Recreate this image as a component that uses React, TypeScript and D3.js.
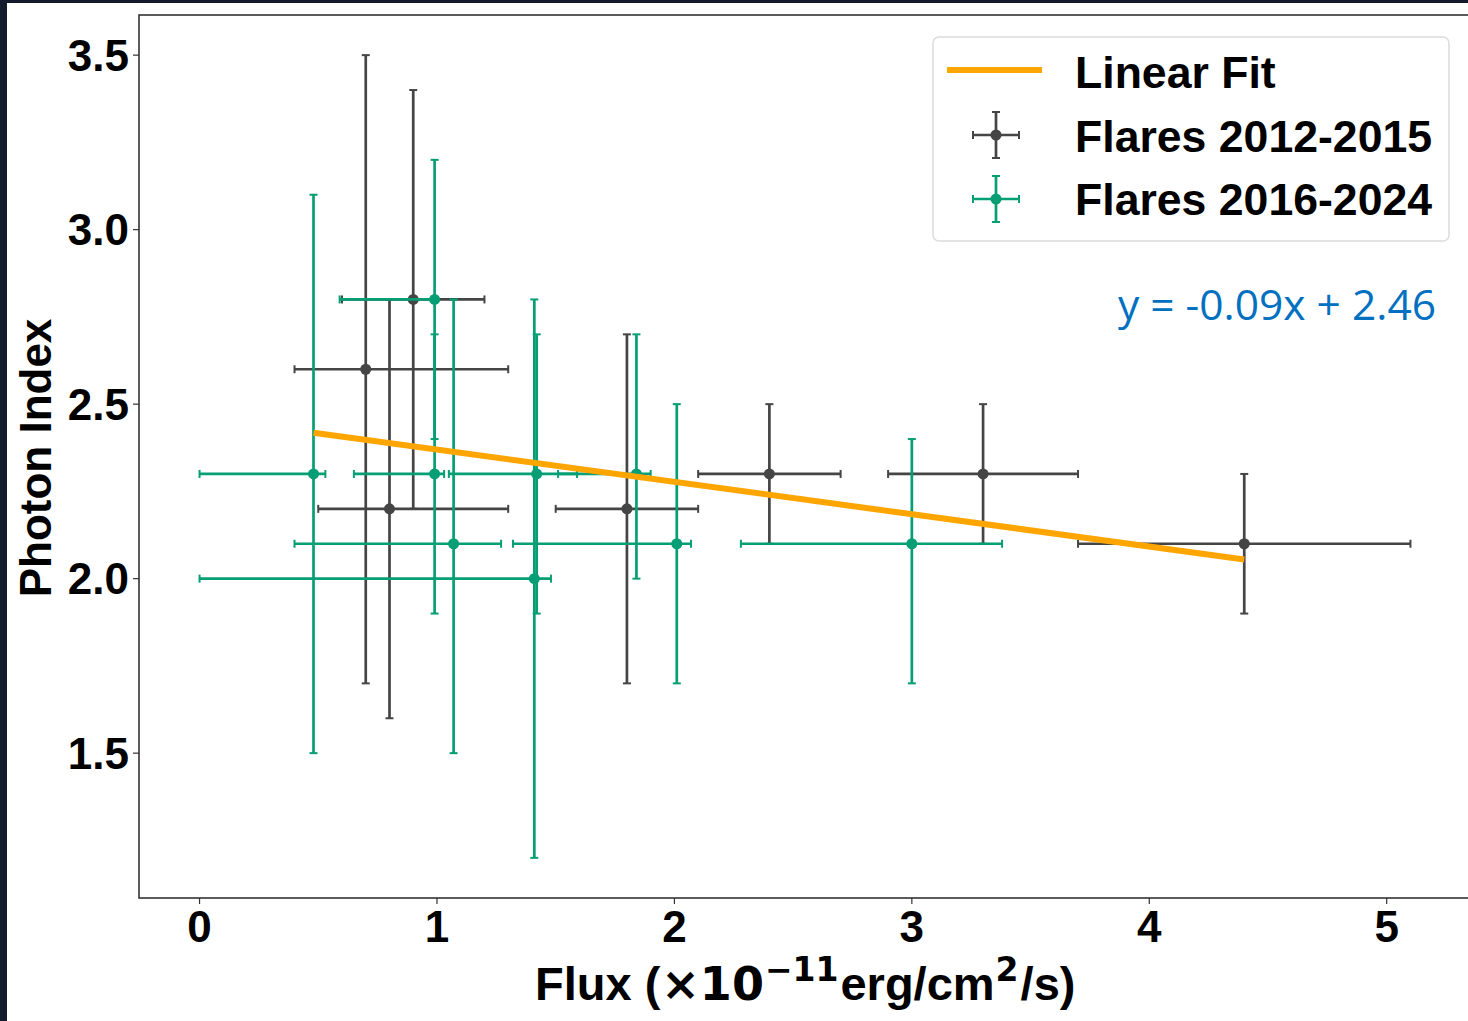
import React from 'react';
import * as d3 from 'd3';

// ---- data ----
const grayX = [0.70, 0.90, 0.80, 1.80, 2.40, 3.30, 4.40];
const grayY = [2.6, 2.8, 2.2, 2.2, 2.3, 2.3, 2.1];
const grayXErrLow = [0.30, 0.30, 0.30, 0.30, 0.30, 0.40, 0.70];
const grayXErrHigh = [0.60, 0.30, 0.50, 0.30, 0.30, 0.40, 0.70];
const grayYErrLow = [0.9, 0.6, 0.6, 0.5, 0.2, 0.2, 0.2];
const grayYErrHigh = [0.9, 0.6, 0.6, 0.5, 0.2, 0.2, 0.2];

const greenX = [0.48, 0.99, 0.99, 1.07, 1.42, 1.41, 1.84, 2.01, 3.00];
const greenY = [2.3, 2.8, 2.3, 2.1, 2.3, 2.0, 2.3, 2.1, 2.1];
const greenXErrLow = [0.48, 0.40, 0.34, 0.67, 0.37, 1.41, 0.33, 0.69, 0.72];
const greenXErrHigh = [0.05, 0.00, 0.04, 0.20, 0.17, 0.07, 0.06, 0.06, 0.38];
const greenYErrLow = [0.8, 0.4, 0.4, 0.6, 0.4, 0.8, 0.3, 0.4, 0.4];
const greenYErrHigh = [0.8, 0.4, 0.4, 0.7, 0.4, 0.8, 0.4, 0.4, 0.3];

const fitSlope = -0.0926;
const fitIntercept = 2.4625;
const fitLabel = 'y = -0.09x + 2.46';

const xTicks = [0, 1, 2, 3, 4, 5];
const yTicks = [1.5, 2.0, 2.5, 3.0, 3.5];

const legendLabels = ['Linear Fit', 'Flares 2012-2015', 'Flares 2016-2024'];

// ---- styles ----
const W = 1468;
const H = 1021;
const GRAY = '#454545';
const GREEN = '#069e74';
const ORANGE = '#FFA500';
const FONT = '"Liberation Sans", Arial, sans-serif';
const MATH = '"DejaVu Sans", sans-serif';

const M = { left: 139, top: 15, right: 1471, bottom: 898 };

const x = d3.scaleLinear().domain([-0.255, 5.355]).range([M.left, M.right]);
const y = d3.scaleLinear().domain([1.085, 3.615]).range([M.bottom, M.top]);

type Pt = { x: number; y: number; xl: number; xh: number; yl: number; yh: number };

function buildSeries(xs: number[], ys: number[], xl: number[], xh: number[], yl: number[], yh: number[]): Pt[] {
  return xs.map((v, i) => ({ x: v, y: ys[i], xl: xl[i], xh: xh[i], yl: yl[i], yh: yh[i] }));
}

const graySeries = buildSeries(grayX, grayY, grayXErrLow, grayXErrHigh, grayYErrLow, grayYErrHigh);
const greenSeries = buildSeries(greenX, greenY, greenXErrLow, greenXErrHigh, greenYErrLow, greenYErrHigh);

const CAP = 4;
const SW = 2.7;

function ErrorBars({ data, color }: { data: Pt[]; color: string }) {
  return (
    <g>
      {data.map((d, i) => {
        const cx = x(d.x);
        const cy = y(d.y);
        const x0 = x(d.x - d.xl);
        const x1 = x(d.x + d.xh);
        const y0 = y(d.y - d.yl);
        const y1 = y(d.y + d.yh);
        return (
          <g key={i} stroke={color} strokeWidth={SW}>
            <line x1={x0} x2={x1} y1={cy} y2={cy} />
            <line x1={cx} x2={cx} y1={y0} y2={y1} />
            <line x1={x0} x2={x0} y1={cy - CAP} y2={cy + CAP} strokeWidth={2} />
            <line x1={x1} x2={x1} y1={cy - CAP} y2={cy + CAP} strokeWidth={2} />
            <line x1={cx - CAP} x2={cx + CAP} y1={y0} y2={y0} strokeWidth={2} />
            <line x1={cx - CAP} x2={cx + CAP} y1={y1} y2={y1} strokeWidth={2} />
          </g>
        );
      })}
      {data.map((d, i) => (
        <circle key={'c' + i} cx={x(d.x)} cy={y(d.y)} r={5.5} fill={color} />
      ))}
    </g>
  );
}

function LegendMarker({ cx, cy, color }: { cx: number; cy: number; color: string }) {
  const h = 23;
  return (
    <g stroke={color} strokeWidth={SW}>
      <line x1={cx - h} x2={cx + h} y1={cy} y2={cy} />
      <line x1={cx} x2={cx} y1={cy - h} y2={cy + h} />
      <line x1={cx - h} x2={cx - h} y1={cy - CAP} y2={cy + CAP} strokeWidth={2} />
      <line x1={cx + h} x2={cx + h} y1={cy - CAP} y2={cy + CAP} strokeWidth={2} />
      <line x1={cx - CAP} x2={cx + CAP} y1={cy - h} y2={cy - h} strokeWidth={2} />
      <line x1={cx - CAP} x2={cx + CAP} y1={cy + h} y2={cy + h} strokeWidth={2} />
      <circle cx={cx} cy={cy} r={5.5} fill={color} stroke="none" />
    </g>
  );
}

export default function App() {
  const allX = [...grayX, ...greenX];
  const fx0 = d3.min(allX) as number;
  const fx1 = d3.max(allX) as number;
  const fitLine = d3.line<number>().x((v) => x(v)).y((v) => y(fitSlope * v + fitIntercept));

  return (
    <div style={{ position: 'absolute', left: 0, top: 0, width: W, height: H }}>
      <svg width={W} height={H} style={{ display: 'block' }}>
        <rect x={0} y={0} width={W} height={H} fill="#151a2d" />
        <rect x={7} y={3} width={W - 7} height={H - 3} fill="#ffffff" />

        <ErrorBars data={graySeries} color={GRAY} />
        <ErrorBars data={greenSeries} color={GREEN} />

        <path d={fitLine([fx0, fx1]) || ''} stroke={ORANGE} strokeWidth={6} fill="none" />

        {/* axes frame */}
        <rect x={M.left} y={M.top} width={M.right - M.left} height={M.bottom - M.top} fill="none" stroke="#333" strokeWidth={1.6} />

        {/* x ticks */}
        {xTicks.map((t) => (
          <g key={'xt' + t}>
            <line x1={x(t)} x2={x(t)} y1={M.bottom} y2={M.bottom + 6} stroke="#333" strokeWidth={1.2} />
            <text x={x(t)} y={942} textAnchor="middle" fontFamily={FONT} fontWeight="bold" fontSize={44} fill="#000">
              {d3.format('d')(t)}
            </text>
          </g>
        ))}
        {/* y ticks */}
        {yTicks.map((t) => (
          <g key={'yt' + t}>
            <line x1={M.left - 6} x2={M.left} y1={y(t)} y2={y(t)} stroke="#333" strokeWidth={1.2} />
            <text x={129} y={y(t) + 15.5} textAnchor="end" fontFamily={FONT} fontWeight="bold" fontSize={44} fill="#000">
              {d3.format('.1f')(t)}
            </text>
          </g>
        ))}

        {/* axis labels */}
        <text transform={`translate(51,${458}) rotate(-90)`} textAnchor="middle" fontFamily={FONT} fontWeight="bold" fontSize={44} fill="#000">
          Photon Index
        </text>
        <text x={535} y={1000} fontFamily={FONT} fontWeight="bold" fontSize={47} fill="#000">
          <tspan>Flux (</tspan>
          <tspan dx={1} fontFamily={MATH} fontSize={46}>×10</tspan>
          <tspan dx={1} dy={-19} fontFamily={MATH} fontSize={33}>−11</tspan>
          <tspan dx={2} dy={19}>erg/cm</tspan>
          <tspan dx={1} dy={-19} fontFamily={MATH} fontSize={33}>2</tspan>
          <tspan dx={2} dy={19}>/s)</tspan>
        </text>

        {/* legend */}
        <rect x={933} y={37} width={516} height={204} rx={6} ry={6} fill="#fff" stroke="#dcdcdc" strokeWidth={1.5} />
        <line x1={947} x2={1042} y1={70} y2={70} stroke={ORANGE} strokeWidth={6} />
        <LegendMarker cx={996} cy={135} color={GRAY} />
        <LegendMarker cx={996} cy={199} color={GREEN} />
        {legendLabels.map((l, i) => (
          <text key={l} x={1075} y={88 + i * 63.5} fontFamily={FONT} fontWeight="bold" fontSize={44.6} fill="#000">
            {l}
          </text>
        ))}

        {/* fit annotation */}
        <text x={1436} y={320} textAnchor="end" fontFamily='"Open Sans", sans-serif' fontSize={42.5} fill="#0070C0">
          {fitLabel}
        </text>
      </svg>
    </div>
  );
}
